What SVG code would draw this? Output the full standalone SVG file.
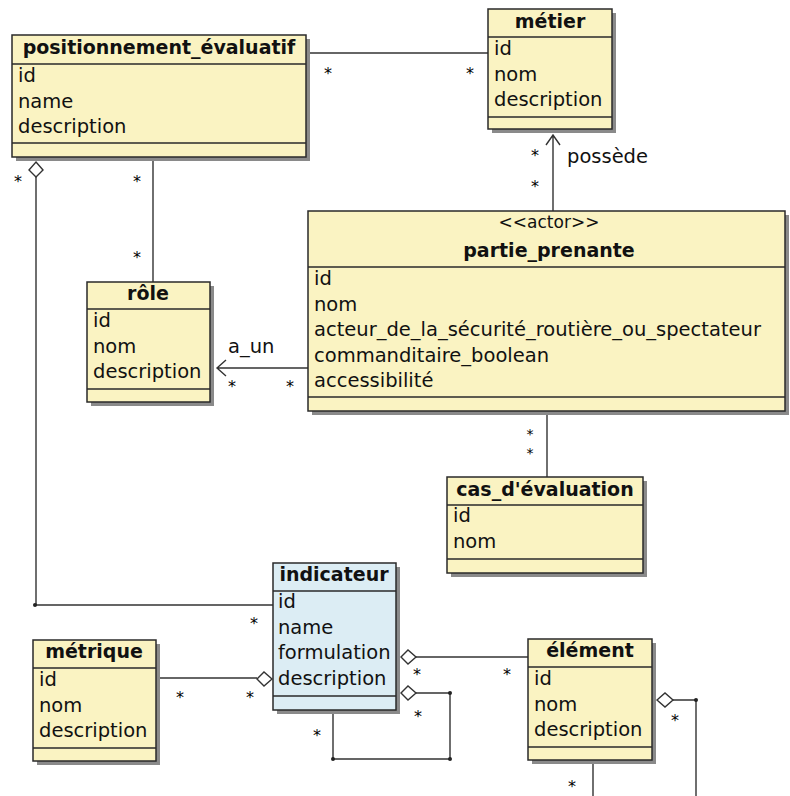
<svg xmlns="http://www.w3.org/2000/svg" width="790" height="796" viewBox="0 0 790 796">
<style>
.sh{fill:#8a8a8a}
.box{fill:#faf3c2;stroke:#2a2a2a;stroke-width:1.5}
.blue{fill:#dcedf4}
.sep{stroke:#2a2a2a;stroke-width:1.3}
.hd{font-family:"DejaVu Sans",sans-serif;font-weight:bold;font-size:19px;text-anchor:middle;fill:#111}
.at{font-family:"DejaVu Sans",sans-serif;font-size:19.5px;fill:#111}
.st{font-family:"DejaVu Sans",sans-serif;font-size:16px;text-anchor:middle;fill:#000}
.st2{font-family:"DejaVu Sans",sans-serif;font-size:14px;text-anchor:middle;fill:#000}
.lb{font-family:"DejaVu Sans",sans-serif;font-size:19.5px;fill:#111}
.ln{stroke:#333;stroke-width:1.4;fill:none}
.dia{fill:#fff;stroke:#333;stroke-width:1.4}
.dot{fill:#222}
</style>
<rect width="790" height="796" fill="#fff"/>
<g id="connectors">
<path class="ln" d="M306 53H488"/>
<path class="ln" d="M153 157V282"/>
<path class="ln" d="M553 211V135M546 145L553 135L560 145"/>
<path class="ln" d="M308 368H217M226 360L217 368L226 376"/>
<path class="ln" d="M547 411V477"/>
<path class="ln" d="M36 177V605H273"/>
<circle class="dot" cx="35" cy="605" r="2"/>
<polygon class="dia" points="36,162 43,170 36,177 29,170"/>
<path class="ln" d="M156 678H257"/>
<polygon class="dia" points="257,679 264,672 272,679 264,686"/>
<path class="ln" d="M416 657H528"/>
<polygon class="dia" points="401,657 408,650 416,657 408,664"/>
<path class="ln" d="M416 693H450V759H333V710"/>
<polygon class="dia" points="401,693 408,686 416,693 408,700"/>
<circle class="dot" cx="450" cy="693" r="2"/>
<circle class="dot" cx="450" cy="759" r="2"/>
<circle class="dot" cx="333" cy="759" r="2"/>
<path class="ln" d="M673 700H696V796"/>
<polygon class="dia" points="657,700 665,693 673,700 665,707"/>
<circle class="dot" cx="696" cy="700" r="2"/>
<path class="ln" d="M593 760V796"/>
<text class="lb" x="567" y="163">possède</text>
<text class="lb" x="228" y="353">a_un</text>
<text class="st" x="18" y="187">*</text>
<text class="st" x="137" y="187">*</text>
<text class="st" x="328" y="79">*</text>
<text class="st" x="470" y="79">*</text>
<text class="st" x="137" y="263">*</text>
<text class="st" x="535" y="161">*</text>
<text class="st" x="535" y="192">*</text>
<text class="st" x="232" y="392">*</text>
<text class="st" x="290" y="392">*</text>
<text class="st2" x="530" y="439">*</text>
<text class="st2" x="530" y="458">*</text>
<text class="st" x="254" y="629">*</text>
<text class="st" x="180" y="703">*</text>
<text class="st" x="250" y="703">*</text>
<text class="st" x="417" y="680">*</text>
<text class="st" x="507" y="680">*</text>
<text class="st" x="418" y="722">*</text>
<text class="st" x="317" y="741">*</text>
<text class="st" x="675" y="726">*</text>
<text class="st" x="572" y="792">*</text>
</g>
<g id="positionnement_evaluatif">
<rect class="sh" x="16" y="39" width="294" height="122"/>
<rect class="box" x="12" y="35" width="294" height="122"/>
<path class="sep" d="M12 64H306M12 143H306"/>
<text class="hd" x="159" y="54">positionnement_évaluatif</text>
<text class="at" x="18" y="82">id</text>
<text class="at" x="18" y="107.5">name</text>
<text class="at" x="18" y="133">description</text>
</g>
<g id="metier">
<rect class="sh" x="492" y="13" width="124" height="120"/>
<rect class="box" x="488" y="9" width="124" height="120"/>
<path class="sep" d="M488 37H612M488 117H612"/>
<text class="hd" x="550" y="28">métier</text>
<text class="at" x="494" y="55">id</text>
<text class="at" x="494" y="80.5">nom</text>
<text class="at" x="494" y="106">description</text>
</g>
<g id="partie_prenante">
<rect class="sh" x="312" y="215" width="477" height="200"/>
<rect class="box" x="308" y="211" width="477" height="200"/>
<path class="sep" d="M308 267H785M308 397H785"/>
<text class="lb" x="549" y="228" text-anchor="middle" style="font-size:17px">&lt;&lt;actor&gt;&gt;</text>
<text class="hd" x="549" y="257">partie_prenante</text>
<text class="at" x="314" y="285">id</text>
<text class="at" x="314" y="310.5">nom</text>
<text class="at" x="314" y="336">acteur_de_la_sécurité_routière_ou_spectateur</text>
<text class="at" x="314" y="361.5">commanditaire_boolean</text>
<text class="at" x="314" y="387">accessibilité</text>
</g>
<g id="role">
<rect class="sh" x="91" y="286" width="123" height="120"/>
<rect class="box" x="87" y="282" width="123" height="120"/>
<path class="sep" d="M87 309H210M87 389H210"/>
<text class="hd" x="148" y="300">rôle</text>
<text class="at" x="93" y="327">id</text>
<text class="at" x="93" y="352.5">nom</text>
<text class="at" x="93" y="378">description</text>
</g>
<g id="cas_evaluation">
<rect class="sh" x="451" y="481" width="196" height="96"/>
<rect class="box" x="447" y="477" width="196" height="96"/>
<path class="sep" d="M447 505H643M447 559H643"/>
<text class="hd" x="545" y="496">cas_d'évaluation</text>
<text class="at" x="453" y="522">id</text>
<text class="at" x="453" y="547.5">nom</text>
</g>
<g id="indicateur">
<rect class="sh" x="277" y="567" width="123" height="147"/>
<rect class="box blue" x="273" y="563" width="123" height="147"/>
<path class="sep" d="M273 591H396M273 696H396"/>
<text class="hd" x="334" y="581">indicateur</text>
<text class="at" x="278" y="608">id</text>
<text class="at" x="278" y="633.5">name</text>
<text class="at" x="278" y="659">formulation</text>
<text class="at" x="278" y="684.5">description</text>
</g>
<g id="metrique">
<rect class="sh" x="37" y="644" width="123" height="121"/>
<rect class="box" x="33" y="640" width="123" height="121"/>
<path class="sep" d="M33 668H156M33 748H156"/>
<text class="hd" x="94" y="658">métrique</text>
<text class="at" x="39" y="686">id</text>
<text class="at" x="39" y="711.5">nom</text>
<text class="at" x="39" y="737">description</text>
</g>
<g id="element">
<rect class="sh" x="532" y="643" width="124" height="121"/>
<rect class="box" x="528" y="639" width="124" height="121"/>
<path class="sep" d="M528 667H652M528 747H652"/>
<text class="hd" x="590" y="657">élément</text>
<text class="at" x="534" y="685">id</text>
<text class="at" x="534" y="710.5">nom</text>
<text class="at" x="534" y="736">description</text>
</g>
</svg>
